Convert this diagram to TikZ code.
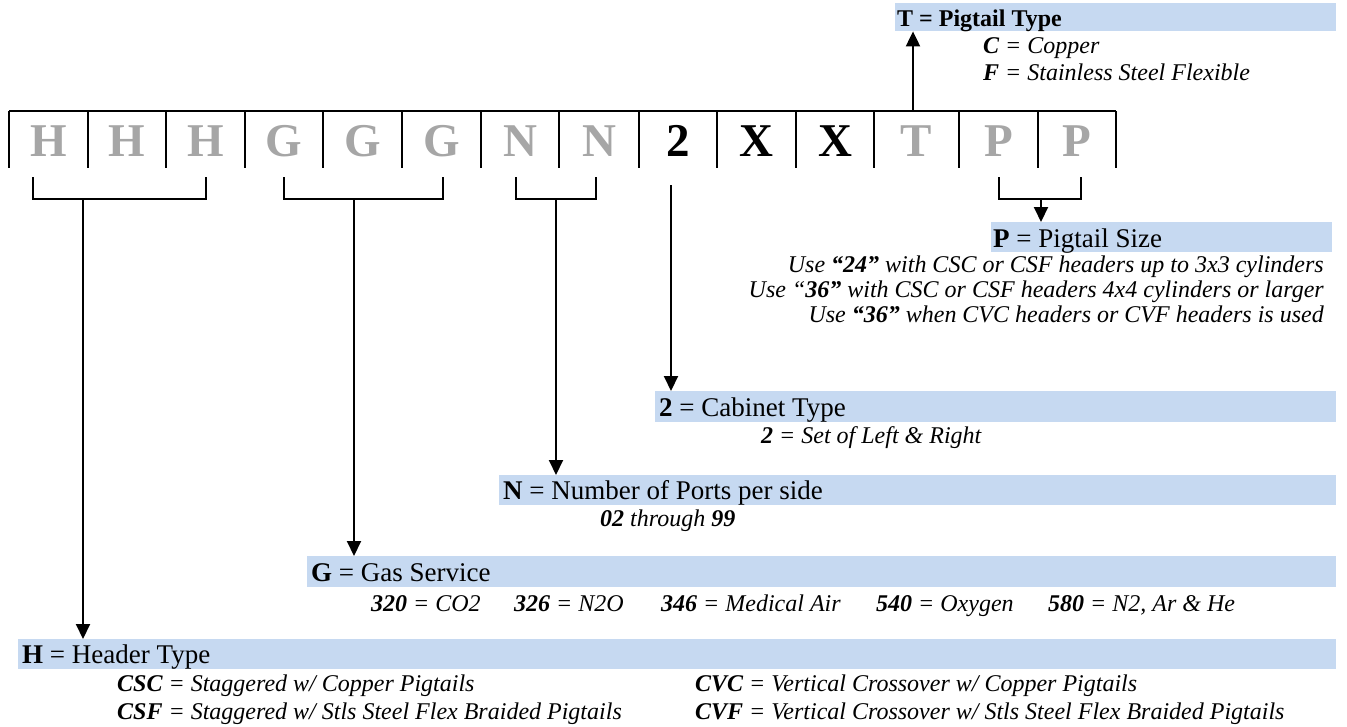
\documentclass[tikz,border=0pt]{standalone}
\usepackage{fontspec}
\setmainfont{Liberation Serif}
\usetikzlibrary{arrows.meta}
\definecolor{boxblue}{HTML}{C6D9F1}
\definecolor{codegray}{HTML}{A6A6A6}
\begin{document}
\begin{tikzpicture}[x=1pt,y=-1pt,
  cellline/.style={line width=2pt},
  brack/.style={line width=1.6pt},
  arr/.style={line width=2pt,-{Triangle[length=15pt,width=14pt]}},
  bandbox/.style={fill=boxblue, inner sep=0pt, anchor=north west},
  codeletter/.style={font=\fontsize{47}{50}\selectfont\bfseries, anchor=base, inner sep=0pt},
  gl/.style={codeletter, text=codegray},
  bl/.style={codeletter, text=black},
  head/.style={font=\fontsize{27}{30}\selectfont, anchor=base west, inner sep=0pt},
  item/.style={font=\fontsize{24}{28}\selectfont\itshape, anchor=base west, inner sep=0pt},
  itemr/.style={font=\fontsize{24}{28}\selectfont\itshape, anchor=base east, inner sep=0pt},
]
\useasboundingbox (0,0) rectangle (1347,726);

% code row
\draw[cellline] (9,111) -- (1116,111);
\foreach \x in {9,88,166,245,323,402,481,559,639,717,796,874,959,1038,1116}
  \draw[cellline] (\x,111) -- (\x,168);
\node[gl] (c1) at (48.5,156) {H};
\node[gl] (c2) at (127,156) {H};
\node[gl] (c3) at (205.5,156) {H};
\node[gl] (c4) at (284,156) {G};
\node[gl] (c5) at (362.5,156) {G};
\node[gl] (c6) at (441.5,156) {G};
\node[gl] (c7) at (520,156) {N};
\node[gl] (c8) at (599,156) {N};
\node[bl] (c9) at (678,156) {2};
\node[bl] (c10) at (756.5,156) {X};
\node[bl] (c11) at (835,156) {X};
\node[gl] (c12) at (916.5,156) {T};
\node[gl] (c13) at (998.5,156) {P};
\node[gl] (c14) at (1077,156) {P};

% bands
\node[bandbox, minimum width=441pt, minimum height=28pt] (tbox) at (895,3) {};
\node[bandbox, minimum width=341pt, minimum height=30pt] (pbox) at (991,222) {};
\node[bandbox, minimum width=681pt, minimum height=31pt] (cbox) at (655,391) {};
\node[bandbox, minimum width=837pt, minimum height=30pt] (nbox) at (499,475) {};
\node[bandbox, minimum width=1029pt, minimum height=31pt] (gbox) at (307,556) {};
\node[bandbox, minimum width=1318pt, minimum height=30pt] (hbox) at (18,639) {};

% brackets
\draw[brack] (33,177) -- (33,199) -- (206,199) -- (206,177);
\draw[brack] (284,177) -- (284,199) -- (443,199) -- (443,177);
\draw[brack] (516,177) -- (516,199) -- (596,199) -- (596,177);
\draw[brack] (999,177) -- (999,199) -- (1081,199) -- (1081,177);

% arrows
\coordinate (hstem) at (83,199);
\coordinate (gstem) at (354,199);
\coordinate (nstem) at (556,199);
\coordinate (cstem) at (671,185);
\coordinate (pstem) at (1041,199);
\coordinate (tstem) at (913,111);
\draw[arr] (hstem) -- (hstem |- hbox.north);
\draw[arr] (gstem) -- (gstem |- gbox.north);
\draw[arr] (nstem) -- (nstem |- nbox.north);
\draw[arr] (cstem) -- (cstem |- cbox.north);
\draw[arr] (pstem) -- (pstem |- pbox.north);
\draw[arr] (tstem) -- (tstem |- tbox.south);

% T
\node[head, font=\fontsize{24}{28}\selectfont\bfseries] (ttitle) at (897,26) {T = Pigtail Type};
\node[item] (t1) at (983,53) {\textbf{C} = Copper};
\node[item] (t2) at (983,80) {\textbf{F} = Stainless Steel Flexible};

% P
\node[head] (ptitle) at (993,247) {\textbf{P} = Pigtail Size};
\node[itemr] (p1) at (1324,272) {Use \textbf{“24”} with CSC or CSF headers up to 3x3 cylinders};
\node[itemr] (p2) at (1324,297) {Use “\textbf{36”} with CSC or CSF headers 4x4 cylinders or larger};
\node[itemr] (p3) at (1324,322) {Use \textbf{“36”} when CVC headers or CVF headers is used};

% Cabinet
\node[head] (ctitle) at (659,416) {\textbf{2} = Cabinet Type};
\node[item] (c1i) at (761,443) {\textbf{2} = Set of Left \& Right};

% N
\node[head] (ntitle) at (503,499) {\textbf{N} = Number of Ports per side};
\node[item] (n1) at (600,526) {\textbf{02} through \textbf{99}};

% G
\node[head] (gtitle) at (311,581) {\textbf{G} = Gas Service};
\node[item] (g1) at (371,611) {\textbf{320} = CO2};
\node[item] (g2) at (514,611) {\textbf{326} = N2O};
\node[item] (g3) at (661,611) {\textbf{346} = Medical Air};
\node[item] (g4) at (876,611) {\textbf{540} = Oxygen};
\node[item] (g5) at (1048,611) {\textbf{580} = N2, Ar \& He};

% H
\node[head] (htitle) at (22,663) {\textbf{H} = Header Type};
\node[item] (h1) at (117,691) {\textbf{CSC} = Staggered w/ Copper Pigtails};
\node[item] (h2) at (117,719) {\textbf{CSF} = Staggered w/ Stls Steel Flex Braided Pigtails};
\node[item] (h3) at (695,691) {\textbf{CVC} = Vertical Crossover w/ Copper Pigtails};
\node[item] (h4) at (695,719) {\textbf{CVF} = Vertical Crossover w/ Stls Steel Flex Braided Pigtails};
\end{tikzpicture}
\end{document}
